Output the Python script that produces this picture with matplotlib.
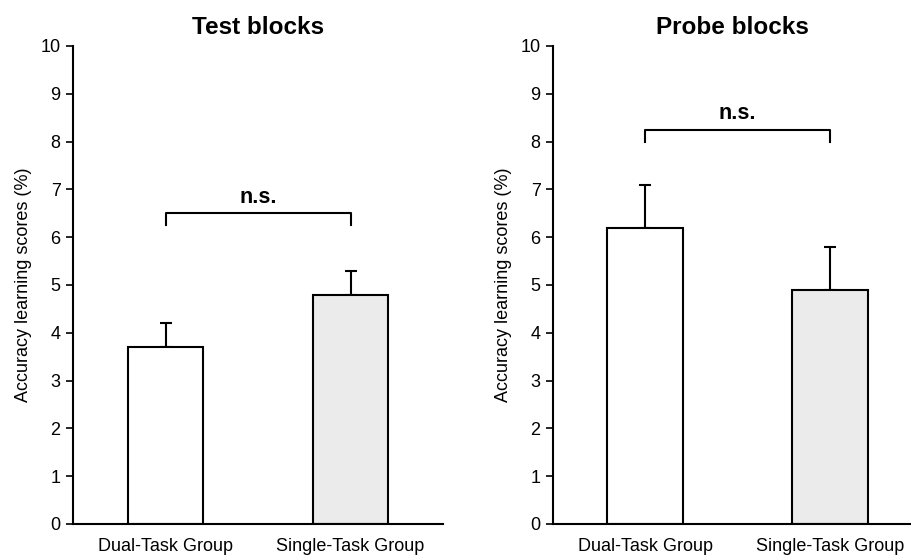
import matplotlib
matplotlib.use("Agg")
import matplotlib.pyplot as plt

plt.rcParams['font.family'] = ['Liberation Sans', 'DejaVu Sans']

groups = ["Dual-Task Group", "Single-Task Group"]
titles = ["Test blocks", "Probe blocks"]
means = [[3.7, 4.8], [6.2, 4.9]]
errors = [[0.5, 0.5], [0.9, 0.9]]
bracket_y = [6.5, 8.25]
bracket_drop = [0.25, 0.25]
sig_labels = ["n.s.", "n.s."]
colors = ["white", "#ebebeb"]
yticks = list(range(0, 11))

fig = plt.figure(figsize=(9.11, 5.57), dpi=100)
rects = [[73/911, 1-524/557, 370/911, 478/557],
         [553/911, 1-524/557, 358/911, 478/557]]

for i in range(2):
    ax = fig.add_axes(rects[i])
    x = [0, 1]
    ax.bar(x, means[i], width=0.41, color=colors, edgecolor='black', linewidth=1.5, zorder=2)
    ax.errorbar(x, means[i], yerr=[[0, 0], errors[i]], fmt='none', ecolor='black',
                elinewidth=1.5, capsize=4, capthick=1.5, zorder=1)
    by = bracket_y[i]
    d = bracket_drop[i]
    ax.plot([0, 0, 1, 1], [by - d, by, by, by - d], color='black', linewidth=1.5)
    ax.text(0.5, by + 0.12, sig_labels[i], ha='center', va='bottom', fontsize=15.5, fontweight='bold')
    ax.set_xlim(-0.5, 1.5 if i == 0 else 1.44)
    ax.set_ylim(0, 10)
    ax.set_yticks(yticks)
    ax.set_xticks(x)
    ax.set_xticklabels(groups, fontsize=13)
    ax.tick_params(axis='x', length=0, pad=10)
    ax.tick_params(axis='y', direction='out', length=5, width=1.2, labelsize=13, pad=4)
    ax.spines['top'].set_visible(False)
    ax.spines['right'].set_visible(False)
    ax.spines['left'].set_linewidth(1.5)
    ax.spines['bottom'].set_linewidth(1.5)
    ax.set_ylabel("Accuracy learning scores (%)", fontsize=13, labelpad=6)
    ax.set_title(titles[i], fontsize=17.5, fontweight='bold', pad=9)

fig.savefig("out.png", dpi=100)
